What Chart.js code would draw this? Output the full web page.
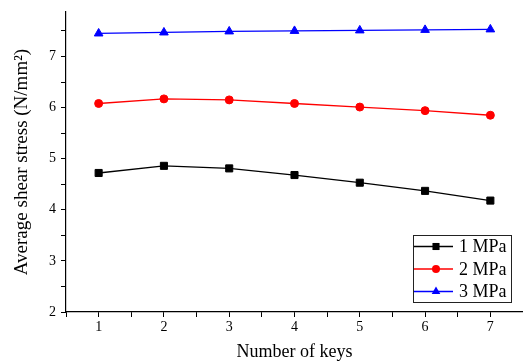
<!DOCTYPE html>
<html>
<head>
<meta charset="utf-8">
<script src="https://cdn.jsdelivr.net/npm/chart.js@4"></script>
<style>
html,body{margin:0;padding:0;background:#fff;}
#wrap{width:523px;height:363px;}
</style>
</head>
<body>
<div id="wrap"><canvas id="c" width="523" height="363"></canvas></div>
<script>
const categories = [1, 2, 3, 4, 5, 6, 7];
const series1MPa = [4.72, 4.86, 4.81, 4.68, 4.53, 4.37, 4.18];
const series2MPa = [6.08, 6.17, 6.15, 6.08, 6.01, 5.94, 5.85];
const series3MPa = [7.45, 7.47, 7.49, 7.50, 7.51, 7.52, 7.53];
const seriesLabels = ['1 MPa', '2 MPa', '3 MPa'];
const xTickLabels = [1, 2, 3, 4, 5, 6, 7];
const yTickLabels = [2, 3, 4, 5, 6, 7];
const xTitle = 'Number of keys';
const yTitle = 'Average shear stress (N/mm\u00B2)';

const FONT = '"Liberation Serif", "Times New Roman", serif';

function toPoints(vals) {
  return categories.map((c, i) => ({ x: c, y: vals[i] }));
}

const styles = [
  { color: '#000000', style: 'rect', radius: 5 },
  { color: '#ff0000', style: 'circle', radius: 4 },
  { color: '#0000ff', style: 'triangle', radius: 5 }
];
const seriesValues = [series1MPa, series2MPa, series3MPa];

const datasets = seriesValues.map((v, i) => ({
  label: seriesLabels[i],
  data: toPoints(v),
  borderColor: styles[i].color,
  backgroundColor: styles[i].color,
  pointBackgroundColor: styles[i].color,
  pointBorderColor: styles[i].color,
  pointStyle: styles[i].style,
  pointRadius: styles[i].radius,
  pointBorderWidth: 1,
  borderWidth: 1.3,
  tension: 0,
  clip: false
}));

function drawMarker(ctx, style, x, y, r, color) {
  ctx.save();
  ctx.fillStyle = color;
  ctx.strokeStyle = color;
  ctx.beginPath();
  if (style === 'rect') {
    const s = Math.SQRT1_2 * r;
    ctx.rect(x - s, y - s, 2 * s, 2 * s);
  } else if (style === 'circle') {
    ctx.arc(x, y, r, 0, Math.PI * 2);
  } else if (style === 'triangle') {
    ctx.moveTo(x, y - r);
    ctx.lineTo(x + r * Math.cos(Math.PI / 6), y + r / 2);
    ctx.lineTo(x - r * Math.cos(Math.PI / 6), y + r / 2);
    ctx.closePath();
  }
  ctx.fill();
  ctx.restore();
}

const legendPlugin = {
  id: 'boxLegend',
  afterDraw(chart) {
    const ctx = chart.ctx;
    const ca = chart.chartArea;
    const right = 511;
    const bottom = ca.bottom - 10;
    const w = 98, h = 67;
    const left = right - w, top = bottom - h;
    ctx.save();
    ctx.fillStyle = '#fff';
    ctx.fillRect(left, top, w, h);
    ctx.strokeStyle = '#222';
    ctx.lineWidth = 1;
    ctx.strokeRect(left + 0.5, top + 0.5, w, h);
    ctx.font = '18px ' + FONT;
    ctx.textBaseline = 'middle';
    ctx.textAlign = 'left';
    chart.data.datasets.forEach((ds, i) => {
      const y = top + 11.5 + i * 22.5;
      ctx.strokeStyle = ds.borderColor;
      ctx.lineWidth = 1.3;
      ctx.beginPath();
      ctx.moveTo(left + 1, y);
      ctx.lineTo(left + 40, y);
      ctx.stroke();
      drawMarker(ctx, ds.pointStyle, left + 23, y, ds.pointRadius, ds.borderColor);
      ctx.fillStyle = '#000';
      ctx.fillText(ds.label, left + 46, y + 1);
    });
    ctx.restore();
  }
};

new Chart(document.getElementById('c'), {
  type: 'line',
  data: { datasets },
  plugins: [legendPlugin],
  options: {
    responsive: false,
    animation: false,
    devicePixelRatio: 1,
    layout: { autoPadding: false, padding: { top: 12, right: -3, left: 0, bottom: 0 } },
    plugins: { legend: { display: false }, tooltip: { enabled: false } },
    scales: {
      x: {
        type: 'linear',
        min: 0.5,
        max: 7.5,
        afterFit(scale) {
          scale.height = 51;
          scale.paddingRight = 0;
          scale.paddingLeft = 0;
        },
        afterBuildTicks(scale) {
          const t = [];
          for (let v = 0.5; v <= 7.5001; v += 0.5) t.push({ value: v });
          scale.ticks = t;
        },
        ticks: {
          autoSkip: false,
          maxRotation: 0,
          padding: 2,
          color: '#000',
          font: { family: FONT, size: 14 },
          callback(v) { return xTickLabels.includes(v) ? String(v) : ''; }
        },
        grid: {
          drawOnChartArea: false,
          drawTicks: true,
          tickLength: 5,
          color: '#000',
          lineWidth: 1
        },
        border: { display: true, color: '#000', width: 1.2 },
        title: {
          display: true,
          text: xTitle,
          color: '#000',
          font: { family: FONT, size: 18 },
          padding: { top: 2, bottom: 0 }
        }
      },
      y: {
        type: 'linear',
        min: 2,
        max: 7.87,
        afterFit(scale) {
          scale.width = 66;
          scale.paddingTop = 0;
          scale.paddingBottom = 0;
        },
        afterBuildTicks(scale) {
          const t = [];
          for (let v = 2; v <= 7.5001; v += 0.5) t.push({ value: v });
          scale.ticks = t;
        },
        ticks: {
          autoSkip: false,
          padding: 5,
          color: '#000',
          font: { family: FONT, size: 14 },
          callback(v) { return yTickLabels.includes(v) ? String(v) : ''; }
        },
        grid: {
          drawOnChartArea: false,
          drawTicks: true,
          tickLength: 5,
          color: '#000',
          lineWidth: 1
        },
        border: { display: true, color: '#000', width: 1.2 },
        title: {
          display: true,
          text: yTitle,
          color: '#000',
          font: { family: FONT, size: 19 },
          padding: { top: 11, bottom: 0 }
        }
      }
    }
  }
});
</script>
</body>
</html>
